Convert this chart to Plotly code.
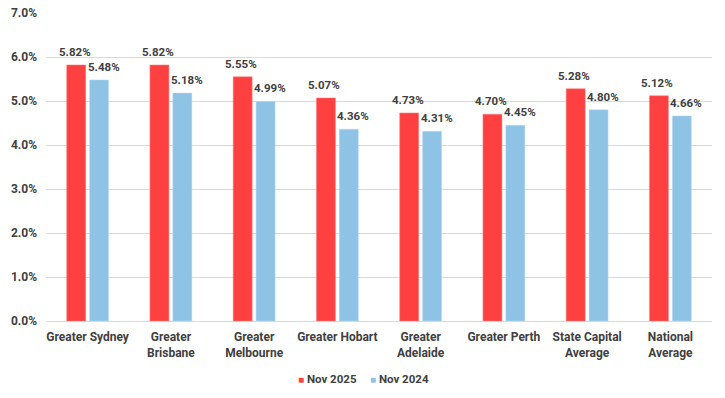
import plotly.graph_objects as go

categories = ["Greater Sydney", "Greater<br>Brisbane", "Greater<br>Melbourne", "Greater Hobart",
              "Greater<br>Adelaide", "Greater Perth", "State Capital<br>Average", "National<br>Average"]
nov_2025 = [5.82, 5.82, 5.55, 5.07, 4.73, 4.70, 5.28, 5.12]
nov_2024 = [5.48, 5.18, 4.99, 4.36, 4.31, 4.45, 4.80, 4.66]
series_names = ["Nov 2025", "Nov 2024"]
y_ticks = [0, 1, 2, 3, 4, 5, 6, 7]

font_family = "Roboto, Liberation Sans, Arial, sans-serif"
text_color = "#404040"
red = "#FF4040"
blue = "#8EC3E6"

fig = go.Figure()
fig.add_trace(go.Bar(
    name=series_names[0], x=categories, y=[v / 100 for v in nov_2025],
    marker=dict(color=red, line=dict(color="#FF8080", width=0.5)),
    showlegend=False,
))
fig.add_trace(go.Bar(
    name=series_names[1], x=categories, y=[v / 100 for v in nov_2024],
    marker=dict(color=blue, line=dict(color="#B8DAF0", width=0.5)),
    showlegend=False,
))

# value labels
for series, shift in [(nov_2025, -13), (nov_2024, 16)]:
    for cat, v in zip(categories, series):
        fig.add_annotation(
            x=cat, y=v / 100, xref="x", yref="y", text=f"{v:.2f}%",
            showarrow=False, xshift=shift, yshift=4, yanchor="bottom",
            font=dict(size=11.5, color=text_color, family=font_family, weight="bold"),
        )

# compact legend (small square swatch + label)
for name, col, px in [(series_names[0], red, 0.4234), (series_names[1], blue, 0.5315)]:
    fig.add_annotation(
        x=px, y=-0.188, xref="paper", yref="paper", showarrow=False,
        xanchor="center", yanchor="middle",
        text=f"<span style='color:{col};font-size:10px'>■</span> {name}",
        font=dict(size=11.5, color=text_color, family=font_family, weight="bold"),
    )

fig.update_layout(
    width=725, height=398,
    margin=dict(l=46, r=13, t=13, b=77, autoexpand=False),
    barmode="group", bargap=0.45, bargroupgap=0.17,
    plot_bgcolor="white", paper_bgcolor="white",
    font=dict(family=font_family, color=text_color, size=12, weight="bold"),
    showlegend=False,
)
fig.update_yaxes(
    range=[0, 0.07], tickvals=[t / 100 for t in y_ticks], tickformat=".1%",
    showgrid=True, gridcolor="#D9D9D9", gridwidth=1, zeroline=False,
    ticks="", ticklen=0, showline=False, automargin=False, ticklabelstandoff=8,
    tickfont=dict(size=12, color=text_color, weight="bold"),
)
fig.update_xaxes(
    showline=True, linecolor="#D9D9D9", linewidth=1, ticks="", automargin=False,
    ticklabelstandoff=5,
    tickfont=dict(size=12, color=text_color, weight="bold"),
    tickangle=0,
)

fig.write_html("out.html", config={"displayModeBar": False},
               post_script="document.body.style.margin='0';")
